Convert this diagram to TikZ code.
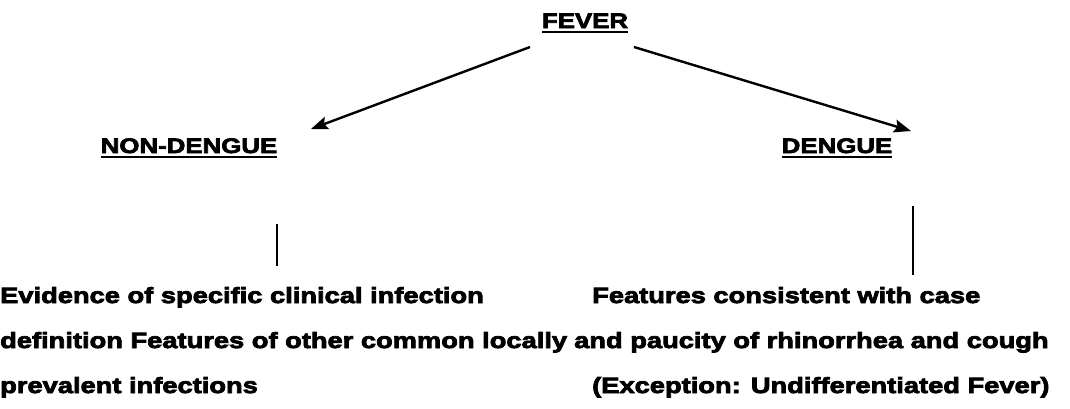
\documentclass[tikz,border=0pt]{standalone}
\usepackage{fontspec}
\newfontfamily\blackfont[FakeStretch=1.23,FakeBold=3.5]{Liberation Sans Bold}
\newfontfamily\bodyfont[FakeStretch=1.24,FakeBold=3.5]{Liberation Sans Bold}
\usetikzlibrary{arrows.meta}
\tikzset{
  heading/.style={font=\blackfont\fontsize{21}{25}\selectfont, inner sep=0pt, anchor=base},
  bodytext/.style={font=\bodyfont\fontsize{22}{45}\selectfont, inner sep=0pt, align=left, anchor=base west},
  uline/.style={line width=2.6pt},
  stroke/.style={line width=2.4pt},
  pfeil/.style={stroke, -{Stealth[length=17pt,width=13pt,inset=3pt]}}
}
\begin{document}
\begin{tikzpicture}[x=1pt,y=-1pt]
  \useasboundingbox (0,0) rectangle (1070,408);
  % Ueberschriften
  \node[heading] (fever) at (585,28) {FEVER};
  \node[heading] (nondengue) at (189,153) {NON-DENGUE};
  \node[heading] (dengue) at (837,153) {DENGUE};
  % Unterstreichungen
  \draw[uline] ([yshift=-4pt]fever.base west) -- ([yshift=-4pt]fever.base east);
  \draw[uline] ([yshift=-4pt]nondengue.base west) -- ([yshift=-4pt]nondengue.base east);
  \draw[uline] ([yshift=-4pt]dengue.base west) -- ([yshift=-4pt]dengue.base east);
  % Pfeile
  \coordinate (FL) at (530,47);
  \coordinate (FR) at (634,47);
  \coordinate (NT) at (311,129);
  \coordinate (DT) at (911,131);
  \draw[pfeil] (FL) -- (NT);
  \draw[pfeil] (FR) -- (DT);
  % Senkrechte Striche
  \coordinate (N1) at (277,224);
  \coordinate (N2) at (277,266);
  \coordinate (D1) at (913,206);
  \coordinate (D2) at (913,275);
  \draw[stroke] (N1) -- (N2);
  \draw[stroke] (D1) -- (D2);
  % Texte
  \node[bodytext] (nontext) at (0,393) {Evidence of specific clinical infection\\definition Features of other common locally\\prevalent infections};
  \node[bodytext] (dentext) at (574,393) {\hspace*{18pt}Features consistent with case\\and paucity of rhinorrhea and cough\\\hspace*{18pt}(Exception: Undifferentiated Fever)};
\end{tikzpicture}
\end{document}
